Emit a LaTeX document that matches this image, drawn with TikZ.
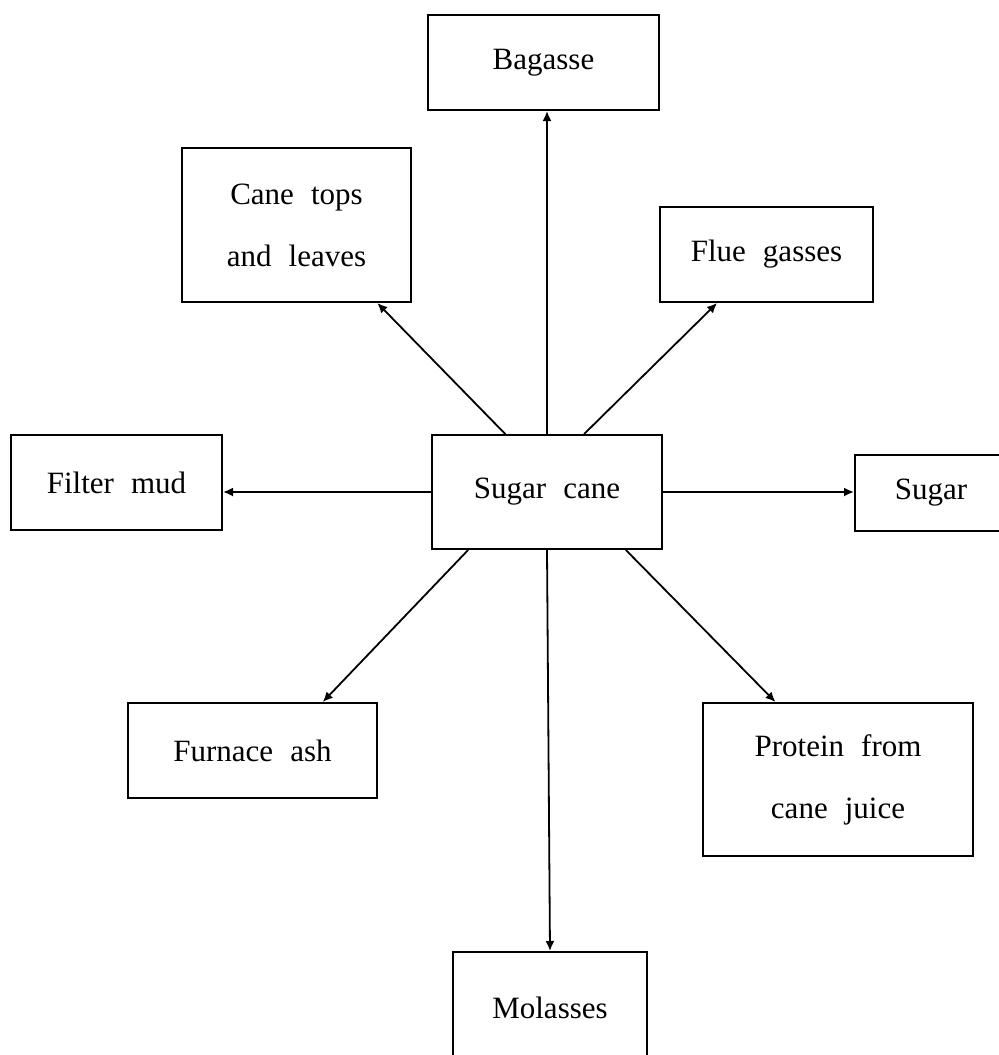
\documentclass[tikz,border=0pt]{standalone}
\usepackage{fontspec}
\setmainfont{Liberation Serif}
\usetikzlibrary{arrows.meta, calc, positioning}
\tikzset{>=latex}
\newcommand{\boxfont}{\fontsize{15.5}{31}\selectfont\spaceskip=0.55em\relax}
\tikzset{
	prodbox/.style={shape=rectangle, draw, line width=1pt, inner sep=0pt, align=center, font=\boxfont},
	flow/.style={line width=0.9pt, -{Latex[length=5pt, width=4.5pt]}}
}

\begin{document}
\begin{tikzpicture}[x=0.5pt, y=-0.5pt]
	\useasboundingbox (0,0) rectangle (999,1055);
	\clip (0,0) rectangle (999,1055);
	% Boxes:
	\node[prodbox, minimum width=115pt, minimum height=57pt] (cane) at (547, 492){Sugar cane};
	\node[prodbox, minimum width=115.5pt, minimum height=47.5pt] (bagasse) at (543.5, 62.5){Bagasse};
	\node[prodbox, minimum width=114.5pt, minimum height=77pt] (tops) at (296.5, 225){Cane tops\\and leaves};
	\node[prodbox, minimum width=106.5pt, minimum height=47.5pt] (flue) at (766.5, 254.5){Flue gasses};
	\node[prodbox, minimum width=105.5pt, minimum height=47.5pt] (mud) at (116.5, 482.5){Filter mud};
	\node[prodbox, minimum width=76pt, minimum height=38pt] (sugar) at (931, 493){Sugar};
	\node[prodbox, minimum width=124.5pt, minimum height=47.5pt] (ash) at (252.5, 750.5){Furnace ash};
	\node[prodbox, minimum width=135pt, minimum height=76.5pt] (protein) at (838, 779.5){Protein from\\cane juice};
	\node[prodbox, minimum width=97pt, minimum height=56pt] (molasses) at (550, 1008){Molasses};
	% Arrows:
	\draw[flow] (cane.north) -- (cane.north |- bagasse.south);
	\draw[flow] ($(cane.north west)!0.32!(cane.north east)$) -- ($(tops.south west)!0.85!(tops.south east)$);
	\draw[flow] ($(cane.north west)!0.66!(cane.north east)$) -- ($(flue.south west)!0.27!(flue.south east)$);
	\draw[flow] (cane.west) -- (cane.west -| mud.east);
	\draw[flow] (cane.east) -- (cane.east -| sugar.west);
	\draw[flow] ($(cane.south west)!0.16!(cane.south east)$) -- ($(ash.north west)!0.78!(ash.north east)$);
	\draw[flow] ($(cane.south west)!0.84!(cane.south east)$) -- ($(protein.north west)!0.27!(protein.north east)$);
	\draw[flow] (cane.south) -- (molasses.north);
\end{tikzpicture}
\end{document}
